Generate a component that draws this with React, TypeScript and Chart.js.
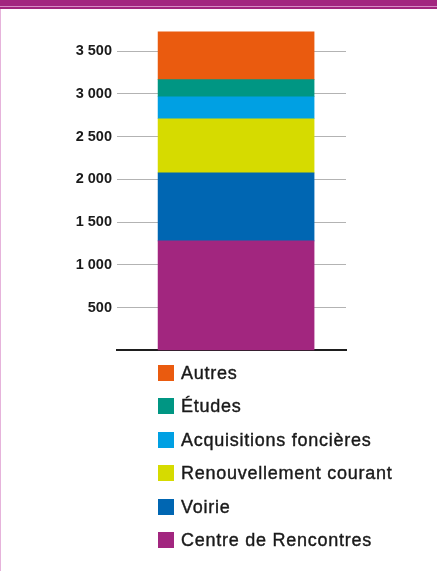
import React, { useEffect, useRef } from "react";
import { Chart, registerables } from "chart.js";

Chart.register(...registerables);

const categories = ["Total"];
const seriesNames = [
  "Centre de Rencontres",
  "Voirie",
  "Renouvellement courant",
  "Acquisitions foncières",
  "Études",
  "Autres",
];
const seriesValues = [1280, 795, 633, 257, 200, 560];
const seriesColors = ["#A2267F", "#0066B2", "#D6DB00", "#00A0E3", "#009683", "#EA5B0F"];
const yTickValues = [500, 1000, 1500, 2000, 2500, 3000, 3500];

const FONT = "'Liberation Sans', Arial, Helvetica, sans-serif";

function fmt(v: number): string {
  return String(v).replace(/\B(?=(\d{3})+(?!\d))/g, " ");
}

export default function App() {
  const ref = useRef<HTMLCanvasElement | null>(null);

  useEffect(() => {
    if (!ref.current) return;
    const chart = new Chart(ref.current, {
      type: "bar",
      data: {
        labels: categories,
        datasets: seriesNames.map((name, i) => ({
          label: name,
          data: categories.map(() => ({ x: 0, y: seriesValues[i] })),
          backgroundColor: seriesColors[i],
          borderWidth: 0,
          barThickness: 156,
        })),
      },
      options: {
        responsive: false,
        animation: false,
        devicePixelRatio: 1,
        layout: { padding: { left: 0, right: 91, top: 25.4, bottom: 0 } },
        plugins: { legend: { display: false }, tooltip: { enabled: false } },
        scales: {
          x: {
            type: "linear",
            stacked: true,
            min: -0.53,
            max: 0.47,
            grid: { display: false, drawTicks: false },
            ticks: { display: false },
            border: { display: true, color: "#1e1e1e", width: 2 },
          },
          y: {
            stacked: true,
            min: 0,
            max: 3800,
            afterBuildTicks: (scale: any) => {
              scale.ticks = yTickValues.map((v) => ({ value: v }));
            },
            afterFit: (scale: any) => {
              scale.width = 117;
            },
            grid: { color: "#b3b3b3", lineWidth: 1, drawTicks: false },
            border: { display: false },
            ticks: {
              padding: 5,
              color: "#1a1a1a",
              font: { family: FONT, size: 14.5, weight: "bold" },
              callback: (v: any) => fmt(Number(v)),
            },
          },
        },
      },
    });
    return () => chart.destroy();
  }, []);

  const legendItems = seriesNames.map((n, i) => ({ name: n, color: seriesColors[i] })).reverse();

  return (
    <div
      style={{
        position: "fixed",
        left: 0,
        top: 0,
        width: 437,
        height: 571,
        background: "#ffffff",
        overflow: "hidden",
      }}
    >
      <canvas ref={ref} width={437} height={364} style={{ position: "absolute", left: 0, top: 0, width: 437, height: 364 }} />
      <div style={{ position: "absolute", left: 0, top: 0, width: 437, height: 6, background: "#A2267F" }} />
      <div style={{ position: "absolute", left: 0, top: 6, width: 437, height: 1, background: "#D68CC4" }} />
      <div style={{ position: "absolute", left: 0, top: 7, width: 437, height: 2, background: "#A2267F" }} />
      <div style={{ position: "absolute", left: 0, top: 9, width: 1, height: 562, background: "#E6B3DB" }} />
      <div style={{ position: "absolute", left: 158, top: 365 }}>
        {legendItems.map((it) => (
          <div key={it.name} style={{ display: "flex", alignItems: "center", height: 16, marginBottom: 17.4 }}>
            <div style={{ width: 16, height: 16, background: it.color, flex: "none" }} />
            <span
              style={{
                marginLeft: 7,
                fontFamily: FONT,
                fontSize: 18,
                letterSpacing: "0.75px",
                color: "#1a1a1a",
                whiteSpace: "nowrap",
                lineHeight: "16px",
                WebkitTextStroke: "0.4px #1a1a1a",
              }}
            >
              {it.name}
            </span>
          </div>
        ))}
      </div>
    </div>
  );
}
